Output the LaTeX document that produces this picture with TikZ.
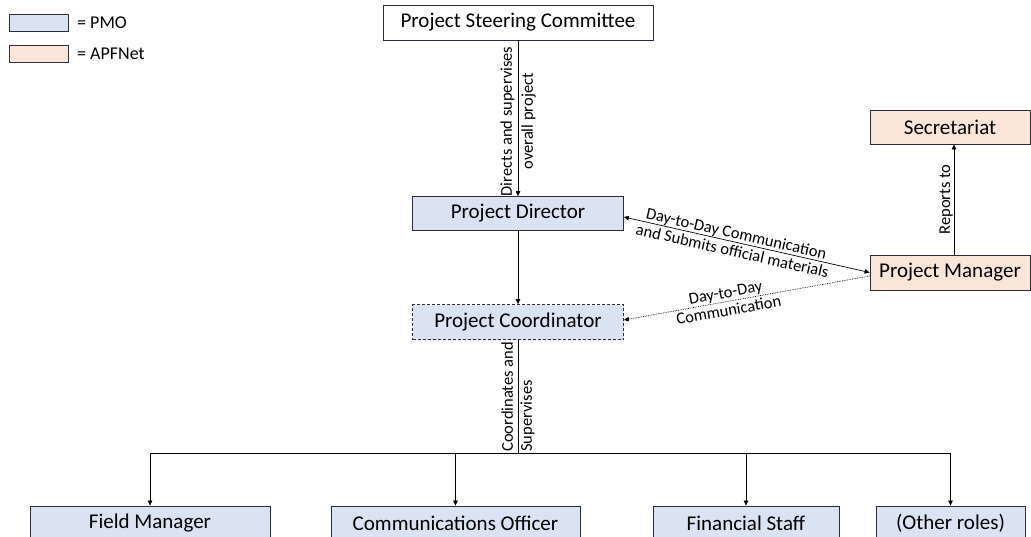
\documentclass[tikz,border=0pt]{standalone}
\usepackage{fontspec}
\setmainfont{Carlito}
\usetikzlibrary{arrows.meta}
\definecolor{pmo}{HTML}{DAE3F3}
\definecolor{apf}{HTML}{FBE5D6}
\definecolor{bord}{HTML}{2B2B3A}
\begin{document}
\begin{tikzpicture}[x=1pt,y=-1pt,
  box/.style={draw=bord, line width=0.8pt, inner sep=0pt, font=\fontsize{21}{24}\selectfont},
  pmobox/.style={box, fill=pmo},
  apfbox/.style={box, fill=apf},
  lbl/.style={font=\fontsize{16.5}{19}\selectfont, inner sep=1pt},
  leg/.style={font=\fontsize{18}{21}\selectfont, inner sep=0pt},
  arr/.style={line width=0.7pt, -{Triangle[length=5pt,width=4.5pt]}},
  conn/.style={line width=0.7pt}]
\useasboundingbox (0,0) rectangle (1031,536);
\clip (0,0) rectangle (1031,536);
% legend
\node[pmobox, minimum width=59pt, minimum height=17pt] (lgA) at (38.5,22.5) {};
\node[leg, anchor=west] (lgAt) at (77,22.5) {= PMO};
\node[apfbox, minimum width=59pt, minimum height=17pt] (lgB) at (38.5,53.5) {};
\node[leg, anchor=west] (lgBt) at (77,53.5) {= APFNet};
% main nodes
\node[box, fill=white, minimum width=270pt, minimum height=35pt] (steer) at (518,22.5) {Project Steering Committee};
\node[pmobox, minimum width=211pt, minimum height=34pt] (dir) at (518,213.5) {Project Director};
\node[pmobox, dashed, dash pattern=on 3pt off 2pt, minimum width=211pt, minimum height=35pt] (coord) at (518,322) {Project Coordinator};
\node[apfbox, minimum width=160pt, minimum height=34pt] (sec) at (950,127) {Secretariat};
\node[apfbox, minimum width=160pt, minimum height=35pt] (pm) at (950,272.5) {Project Manager};
% bottom row
\node[pmobox, minimum width=240pt, minimum height=35pt] (fm) at (150,523.5) {Field Manager};
\node[pmobox, minimum width=249pt, minimum height=35pt] (co) at (455.5,523.5) {Communications Officer};
\node[pmobox, minimum width=186pt, minimum height=35pt] (fs) at (746,523.5) {Financial Staff};
\node[pmobox, minimum width=149pt, minimum height=35pt] (or) at (950.5,523.5) {(Other roles)};
% connectors
\draw[arr] (steer.south) -- (dir.north)
  node[pos=0.52, lbl, rotate=90, align=center, font=\fontsize{16.5}{21}\selectfont] {Directs and supervises\\overall project};
\draw[arr] (dir.south) -- (coord.north);
\draw[arr] ([xshift=4pt]pm.north) -- ([xshift=4pt]sec.south)
  node[midway, lbl, rotate=90, anchor=south] {Reports to};
\draw[line width=0.7pt, {Triangle[length=5pt,width=4.5pt]}-{Triangle[length=5pt,width=4.5pt]}] ([yshift=-3.5pt]dir.east) -- (pm.west)
  node[pos=0.45, lbl, sloped, align=center, font=\fontsize{16.5}{18}\selectfont] {Day-to-Day Communication\\and Submits official materials};
\draw[arr, densely dotted] ([yshift=-3.5pt]pm.west) -- ([yshift=2pt]coord.east)
  node[pos=0.58, lbl, sloped, align=center, font=\fontsize{16.5}{18}\selectfont] {Day-to-Day\\Communication};
\coordinate (bus) at (518,453);
\draw[conn] (coord.south) -- (bus)
  node[pos=1, lbl, rotate=90, anchor=west, align=left, font=\fontsize{16.5}{19}\selectfont] {Coordinates and\\Supervises};
\draw[conn] (fm.north |- bus) -- (or.north |- bus);
\draw[arr] (fm.north |- bus) -- (fm.north);
\draw[arr] (co.north |- bus) -- (co.north);
\draw[arr] (fs.north |- bus) -- (fs.north);
\draw[arr] (or.north |- bus) -- (or.north);
\end{tikzpicture}
\end{document}
